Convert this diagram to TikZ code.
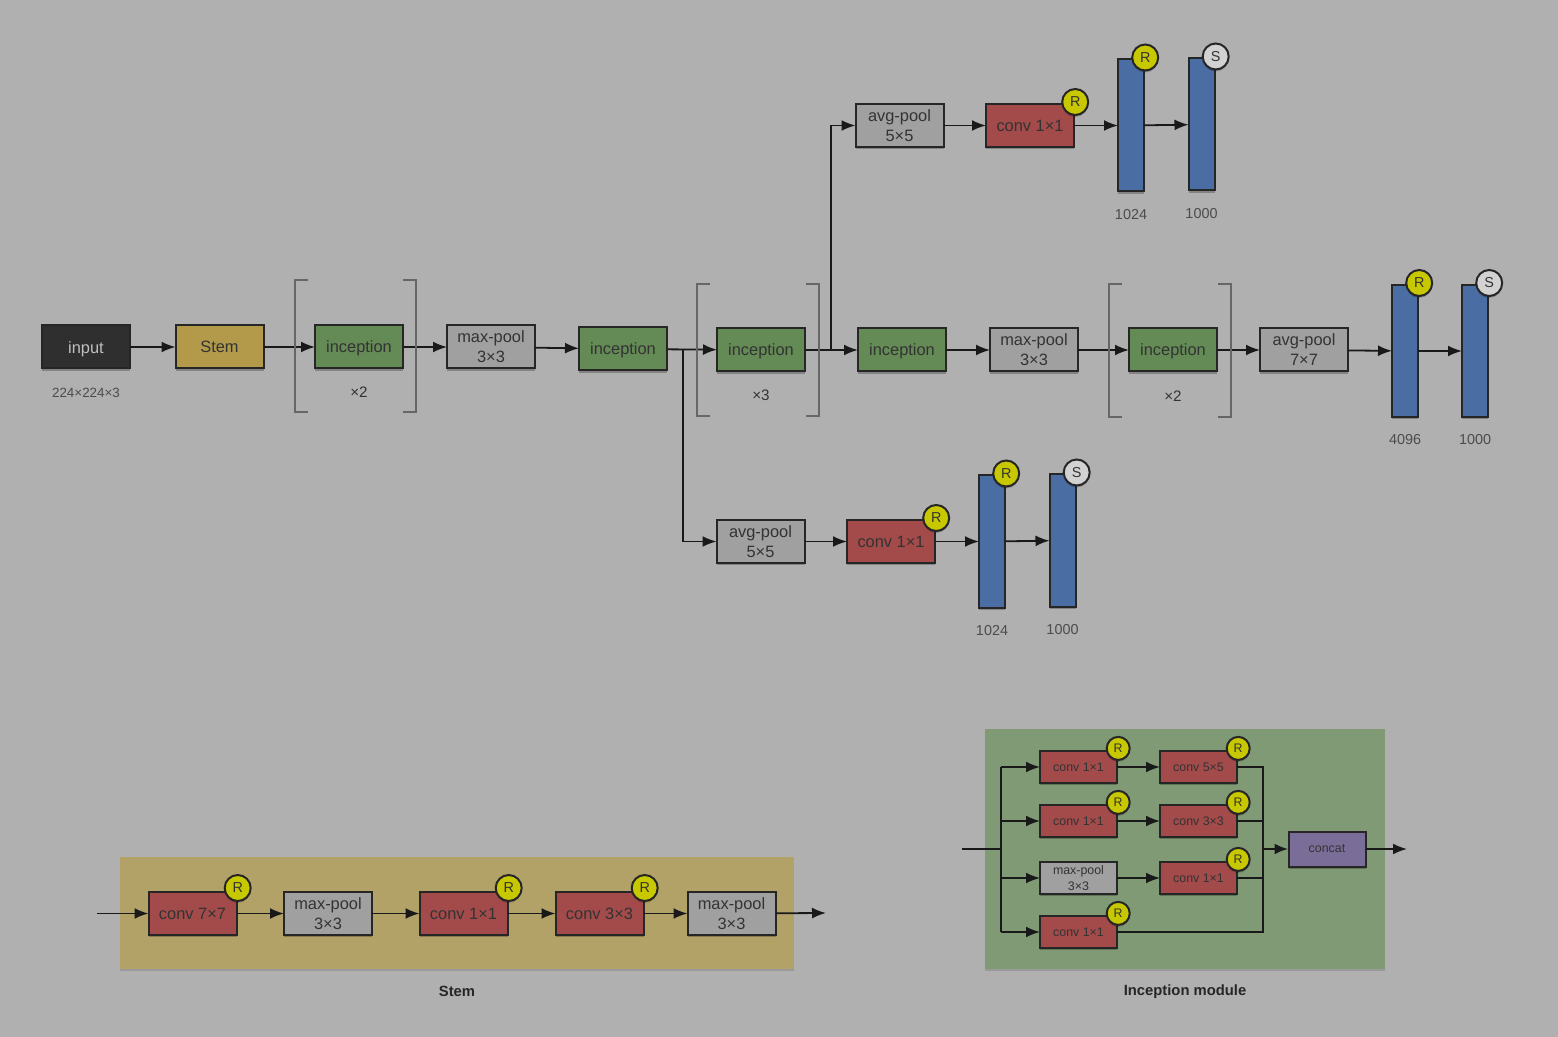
\documentclass[tikz,border=0pt]{standalone}
\usepackage{fontspec}
\setmainfont{Liberation Sans}
\usetikzlibrary{positioning,arrows.meta,shadows}
\newcommand{\NetUnit}{0.5}
\definecolor{pagegray}{HTML}{B0B0B0}
\definecolor{inputgray}{HTML}{2F2F2F}
\definecolor{stemtan}{HTML}{B39A4A}
\definecolor{incepgreen}{HTML}{648A55}
\definecolor{poolgray}{HTML}{A0A0A0}
\definecolor{convred}{HTML}{A34A4A}
\definecolor{fcblue}{HTML}{4A6EA4}
\definecolor{badgeyellow}{HTML}{C8C800}
\definecolor{badgewhite}{HTML}{D2D2D2}
\definecolor{concatpurple}{HTML}{7A6E98}
\definecolor{panelgreen}{HTML}{7F9A74}
\definecolor{paneltan}{HTML}{B3A268}
\tikzset{
	netbox/.style={draw=black!85, line width=1pt, inner sep=0pt, outer sep=0pt, align=center, text=black!80,
		minimum width=88*\NetUnit pt, minimum height=43*\NetUnit pt, font=\fontsize{8.2}{10}\selectfont,
		drop shadow={shadow xshift=0pt, shadow yshift=-1.2pt, opacity=0.25, fill=black}},
	inputbox/.style={netbox, fill=inputgray, text=black!25, text depth=0pt},
	stembox/.style={netbox, fill=stemtan, text depth=0pt},
	incepbox/.style={netbox, fill=incepgreen, text depth=0pt},
	poolbox/.style={netbox, fill=poolgray},
	convbox/.style={netbox, fill=convred},
	fcbar/.style={netbox, fill=fcblue, minimum width=26*\NetUnit pt, minimum height=132*\NetUnit pt},
	smallbox/.style={minimum width=77*\NetUnit pt, minimum height=32*\NetUnit pt, font=\fontsize{6.2}{7.6}\selectfont},
	rbadge/.style={circle, draw=black!85, line width=1pt, fill=badgeyellow, inner sep=0pt, outer sep=0pt, text=black!80,
		minimum size=26*\NetUnit pt, font=\fontsize{7.2}{8}\selectfont, xshift=0.6pt, yshift=1pt,
		drop shadow={shadow xshift=0pt, shadow yshift=-1pt, opacity=0.2, fill=black}},
	sbadge/.style={rbadge, fill=badgewhite},
	smallbadge/.style={minimum size=23*\NetUnit pt, font=\fontsize{6.2}{7}\selectfont, yshift=0.3pt},
	sizelabel/.style={inner sep=0pt, text=black!70, font=\fontsize{7.2}{8}\selectfont},
	repeatlabel/.style={inner sep=0pt, text=black!80, font=\fontsize{7.6}{8}\selectfont},
	paneltitle/.style={inner sep=0pt, text=black!85, font=\fontsize{7.4}{8}\selectfont\bfseries},
	panel/.style={inner sep=0pt, outer sep=0pt, drop shadow={shadow xshift=0pt, shadow yshift=-1.2pt, opacity=0.12, fill=black}},
	flow/.style={-{Latex[length=7pt,width=5.5pt]}, line width=0.9pt, black!90},
	busline/.style={line width=0.9pt, black!90},
	thickflow/.style={flow, line width=1.4pt},
	bracketline/.style={line width=0.6pt, black!60},
}

\begin{document}
\begin{tikzpicture}[x=\NetUnit pt, y=-\NetUnit pt]
	\useasboundingbox (0,0) rectangle (1558,1037);
	\fill[pagegray] (0,0) rectangle (1558,1037);

	\node[inputbox] (input) at (86,347) {\raisebox{-1pt}{input}};
	\node[sizelabel, font=\fontsize{6.7}{8}\selectfont, below=19*\NetUnit pt of input] (inputsize) {224×224×3};
	\node[stembox, right=45.5*\NetUnit pt of input] (stem) {Stem};
	\node[incepbox, right=51.5*\NetUnit pt of stem] (incepA) {inception};
	\node[poolbox, right=44*\NetUnit pt of incepA] (poolA) {max-pool\\3×3};
	\node[incepbox, right=44*\NetUnit pt of poolA, yshift=-1pt] (incepB) {inception};
	\node[incepbox, right=50*\NetUnit pt of incepB, yshift=-0.5pt] (incepC) {inception};
	\node[incepbox, right=53*\NetUnit pt of incepC] (incepD) {inception};
	\node[poolbox, right=44*\NetUnit pt of incepD] (poolB) {max-pool\\3×3};
	\node[incepbox, right=51*\NetUnit pt of poolB] (incepE) {inception};
	\node[poolbox, right=43*\NetUnit pt of incepE] (poolC) {avg-pool\\7×7};
	\node[fcbar, right=44*\NetUnit pt of poolC, yshift=-0.5pt] (fcA) {};
	\node[fcbar, right=44*\NetUnit pt of fcA] (fcB) {};
	\node[rbadge] (fcAbadge) at (fcA.north east) {R};
	\node[sbadge] (fcBbadge) at (fcB.north east) {S};
	\node[sizelabel, below=17*\NetUnit pt of fcA] (fcAsize) {4096};
	\node[sizelabel, below=17*\NetUnit pt of fcB] (fcBsize) {1000};
	\node[repeatlabel, below=18*\NetUnit pt of incepA] (repeatA) {×2};
	\node[repeatlabel, below=18*\NetUnit pt of incepC] (repeatC) {×3};
	\node[repeatlabel, below=19*\NetUnit pt of incepE] (repeatE) {×2};

	\coordinate[right=16*\NetUnit pt of incepB] (lowerfork);
	\coordinate[right=26*\NetUnit pt of incepC] (upperfork);

	\node[poolbox] (poolU) at (899.5,125.5) {avg-pool\\5×5};
	\node[convbox, right=42.5*\NetUnit pt of poolU] (convU) {conv 1×1};
	\node[fcbar, right=44*\NetUnit pt of convU] (fcU) {};
	\node[fcbar, right=44.5*\NetUnit pt of fcU, yshift=0.5pt] (fcV) {};
	\node[rbadge] (convUbadge) at (convU.north east) {R};
	\node[rbadge] (fcUbadge) at (fcU.north east) {R};
	\node[sbadge] (fcVbadge) at (fcV.north east) {S};
	\node[sizelabel, below=18*\NetUnit pt of fcU] (fcUsize) {1024};
	\node[sizelabel, below=18*\NetUnit pt of fcV] (fcVsize) {1000};

	\node[poolbox] (poolL) at (760.5,541.5) {avg-pool\\5×5};
	\node[convbox, right=42.5*\NetUnit pt of poolL] (convL) {conv 1×1};
	\node[fcbar, right=44*\NetUnit pt of convL] (fcL) {};
	\node[fcbar, right=44.5*\NetUnit pt of fcL, yshift=0.5pt] (fcM) {};
	\node[rbadge] (convLbadge) at (convL.north east) {R};
	\node[rbadge] (fcLbadge) at (fcL.north east) {R};
	\node[sbadge] (fcMbadge) at (fcM.north east) {S};
	\node[sizelabel, below=18*\NetUnit pt of fcL] (fcLsize) {1024};
	\node[sizelabel, below=18*\NetUnit pt of fcM] (fcMsize) {1000};

	\draw[flow] (input) -- (stem);
	\draw[flow] (stem) -- (incepA);
	\draw[flow] (incepA) -- (poolA);
	\draw[flow] (poolA) -- (incepB);
	\draw[flow] (incepB) -- (incepC);
	\draw[flow] (incepC) -- (incepD);
	\draw[flow] (incepD) -- (poolB);
	\draw[flow] (poolB) -- (incepE);
	\draw[flow] (incepE) -- (poolC);
	\draw[flow] (poolC) -- (fcA);
	\draw[flow] (fcA) -- (fcB);
	\draw[flow] (lowerfork) |- (poolL);
	\draw[flow] (upperfork) |- (poolU);
	\draw[flow] (poolU) -- (convU);
	\draw[flow] (convU) -- (fcU);
	\draw[flow] (fcU) -- (fcV);
	\draw[flow] (poolL) -- (convL);
	\draw[flow] (convL) -- (fcL);
	\draw[flow] (fcL) -- (fcM);

	\draw[bracketline] (308,280) -- (295,280) -- (295,412) -- (308,412);
	\draw[bracketline] (403,280) -- (416,280) -- (416,412) -- (403,412);
	\draw[bracketline] (710,284) -- (697,284) -- (697,416) -- (710,416);
	\draw[bracketline] (806,284) -- (819,284) -- (819,416) -- (806,416);
	\draw[bracketline] (1122,284) -- (1109,284) -- (1109,417) -- (1122,417);
	\draw[bracketline] (1218,284) -- (1231,284) -- (1231,417) -- (1218,417);

	\node[panel, fill=paneltan, minimum width=674*\NetUnit pt, minimum height=112*\NetUnit pt] (stempanel) at (457,913) {};
	\node[paneltitle, below=17*\NetUnit pt of stempanel] (stemtitle) {Stem};
	\coordinate (stemin) at (97,913.5);
	\coordinate (stemout) at (826,913);
	\node[convbox] (stemA) at (192.5,913.5) {conv 7×7};
	\node[poolbox, right=47.5*\NetUnit pt of stemA] (stemB) {max-pool\\3×3};
	\node[convbox, right=47.5*\NetUnit pt of stemB] (stemC) {conv 1×1};
	\node[convbox, right=48*\NetUnit pt of stemC] (stemD) {conv 3×3};
	\node[poolbox, right=44*\NetUnit pt of stemD] (stemE) {max-pool\\3×3};
	\node[rbadge, yshift=1pt] (stemAbadge) at (stemA.north east) {R};
	\node[rbadge, yshift=1pt] (stemCbadge) at (stemC.north east) {R};
	\node[rbadge, yshift=1pt] (stemDbadge) at (stemD.north east) {R};
	\draw[flow] (stemin) -- (stemA);
	\draw[flow] (stemA) -- (stemB);
	\draw[flow] (stemB) -- (stemC);
	\draw[flow] (stemC) -- (stemD);
	\draw[flow] (stemD) -- (stemE);
	\draw[flow] (stemE) -- (stemout);

	\node[panel, fill=panelgreen, minimum width=400*\NetUnit pt, minimum height=240*\NetUnit pt] (modpanel) at (1185,849) {};
	\node[paneltitle, below=15*\NetUnit pt of modpanel] (modtitle) {Inception module};
	\coordinate (modin) at (962,849);
	\coordinate (busin) at (1001,849);
	\coordinate (busout) at (1263,849);
	\coordinate (modout) at (1407,849);
	\node[convbox, smallbox] (modA) at (1078.5,767) {conv 1×1};
	\node[convbox, smallbox, below=22*\NetUnit pt of modA] (modB) {conv 1×1};
	\node[poolbox, smallbox, below=25*\NetUnit pt of modB] (modC) {max-pool\\3×3};
	\node[convbox, smallbox, below=22*\NetUnit pt of modC] (modD) {conv 1×1};
	\node[convbox, smallbox, right=43*\NetUnit pt of modA] (modE) {conv 5×5};
	\node[convbox, smallbox, right=43*\NetUnit pt of modB] (modF) {conv 3×3};
	\node[convbox, smallbox, right=43*\NetUnit pt of modC] (modG) {conv 1×1};
	\node[poolbox, smallbox, fill=concatpurple, minimum height=35*\NetUnit pt] (concat) at (1327,849) {concat};
	\node[rbadge, smallbadge] (modAbadge) at (modA.north east) {R};
	\node[rbadge, smallbadge] (modBbadge) at (modB.north east) {R};
	\node[rbadge, smallbadge] (modDbadge) at (modD.north east) {R};
	\node[rbadge, smallbadge] (modEbadge) at (modE.north east) {R};
	\node[rbadge, smallbadge] (modFbadge) at (modF.north east) {R};
	\node[rbadge, smallbadge] (modGbadge) at (modG.north east) {R};
	\draw[thickflow, -] (modin) -- (busin);
	\draw[flow] (busin |- modA) -- (modA);
	\draw[flow] (busin |- modB) -- (modB);
	\draw[flow] (busin |- modC) -- (modC);
	\draw[flow] (busin |- modD) -- (modD);
	\draw[busline] (busin |- modA) -- (busin |- modD);
	\draw[flow] (modA) -- (modE);
	\draw[flow] (modB) -- (modF);
	\draw[flow] (modC) -- (modG);
	\draw[busline] (modE) -| (busout);
	\draw[busline] (modF) -- (busout |- modF);
	\draw[busline] (modG) -- (busout |- modG);
	\draw[busline] (modD) -| (busout);
	\draw[thickflow] (busout) -- (concat);
	\draw[flow] (concat) -- (modout);
\end{tikzpicture}
\end{document}
